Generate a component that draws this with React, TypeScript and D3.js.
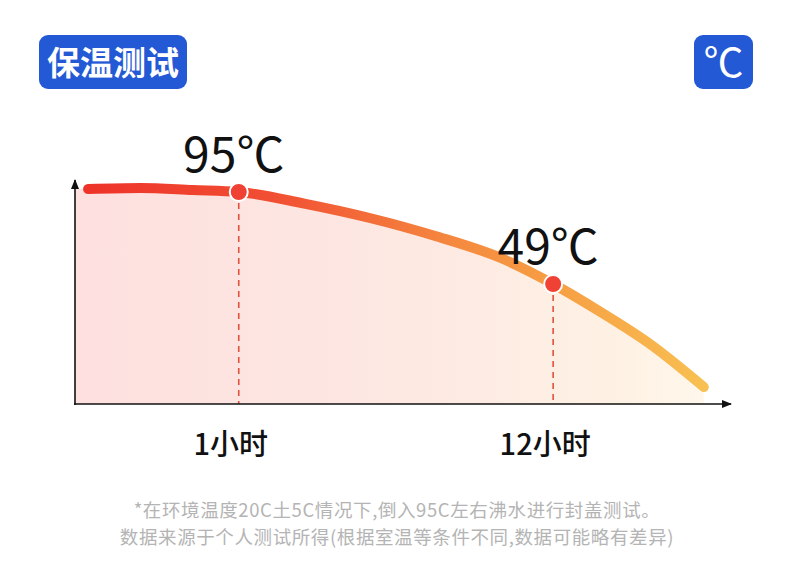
import React from 'react';
import * as d3 from 'd3';

// curve samples: position along the time axis (% of axis) -> water temperature (illustrative)
const POS = [2, 10, 18, 25, 35, 45, 55, 65, 73, 80, 88, 96];
const TEMPS = [96.5, 97, 96, 95, 89.2, 82, 73, 62, 49, 35.5, 18.5, -2.5];

// highlighted readings
const MARK_POS = [25, 73];
const MARK_TEMPS = [95, 49];
const MARK_LABELS = ['95℃', '49℃'];
const TICK_LABELS = ['1小时', '12小时'];

const TITLE = '保温测试';
const UNIT = '℃';
const NOTES = [
  '*在环境温度20C土5C情况下,倒入95C左右沸水进行封盖测试。',
  '数据来源于个人测试所得(根据室温等条件不同,数据可能略有差异)',
];

const W = 790;
const H = 569;
const AXIS_X = 75;
const AXIS_Y = 404;
const AXIS_END = 730;
const CJK = '"Noto Sans CJK SC", "Noto Sans", sans-serif';
const BLUE = '#2459d6';

const App: React.FC = () => {
  const x = d3.scaleLinear().domain([0, 100]).range([AXIS_X, AXIS_END]);
  const y = d3.scaleLinear().domain([0, 100]).range([382, 182]);

  const pts: [number, number][] = POS.map((p, i) => [p, TEMPS[i]]);

  const line = d3.line<[number, number]>()
    .x(d => x(d[0]))
    .y(d => y(d[1]))
    .curve(d3.curveMonotoneX);

  const area = d3.area<[number, number]>()
    .x(d => x(d[0]))
    .y0(AXIS_Y)
    .y1(d => y(d[1]))
    .curve(d3.curveMonotoneX);

  const x0 = x(POS[0]);
  const yTop = y(TEMPS[0]);

  return (
    <svg width={W} height={H} style={{ position: 'absolute', left: 0, top: 0, background: '#fff' }}>
      <defs>
        <linearGradient id="fillGrad" gradientUnits="userSpaceOnUse" x1={AXIS_X} x2={AXIS_END} y1={0} y2={0}>
          <stop offset="0" stopColor="#fde0df" />
          <stop offset="0.5" stopColor="#fde8e2" />
          <stop offset="0.85" stopColor="#fef2e4" />
          <stop offset="0.96" stopColor="#fff7ec" />
          <stop offset="1" stopColor="#ffffff" />
        </linearGradient>
        <linearGradient id="lineGrad" gradientUnits="userSpaceOnUse" x1={x0} x2={x(POS[POS.length - 1])} y1={0} y2={0}>
          <stop offset="0" stopColor="#ee3329" />
          <stop offset="0.3" stopColor="#f14f33" />
          <stop offset="0.6" stopColor="#f58a3f" />
          <stop offset="0.8" stopColor="#f7a446" />
          <stop offset="1" stopColor="#f8c052" />
        </linearGradient>
        <marker id="arrow" viewBox="0 0 10 10" refX="9" refY="5" markerWidth="10" markerHeight="10"
          markerUnits="userSpaceOnUse" orient="auto">
          <path d="M0,1 L10,5 L0,9 Z" fill="#111" />
        </marker>
      </defs>

      {/* title badge */}
      <rect x={39} y={35} width={148} height={54} rx={9} fill={BLUE} />
      <text x={113} y={75} textAnchor="middle" fill="#fff" fontFamily={CJK} fontWeight={700} fontSize={33}>
        {TITLE}
      </text>
      <rect x={694} y={35} width={59} height={54} rx={9} fill={BLUE} />
      <text x={723.5} y={77} textAnchor="middle" fill="#fff" fontFamily={CJK} fontSize={40}>
        {UNIT}
      </text>

      {/* area under curve */}
      <rect x={AXIS_X} y={yTop} width={x0 - AXIS_X + 1} height={AXIS_Y - yTop} fill="url(#fillGrad)" />
      <path d={area(pts) ?? ''} fill="url(#fillGrad)" />

      {/* dashed guides */}
      {MARK_POS.map((p, i) => (
        <line key={`g${i}`} x1={x(p)} x2={x(p)} y1={y(MARK_TEMPS[i])} y2={AXIS_Y}
          stroke="#e2503f" strokeWidth={1.6} strokeDasharray="6,5" />
      ))}

      {/* axes */}
      <line x1={AXIS_X} x2={AXIS_X} y1={AXIS_Y + 1} y2={180} stroke="#111" strokeWidth={1.6} markerEnd="url(#arrow)" />
      <line x1={AXIS_X - 1} x2={AXIS_END + 1} y1={AXIS_Y} y2={AXIS_Y} stroke="#111" strokeWidth={1.6} markerEnd="url(#arrow)" />

      {/* curve */}
      <path d={line(pts) ?? ''} fill="none" stroke="url(#lineGrad)" strokeWidth={10} strokeLinecap="round" />

      {/* marked points */}
      {MARK_POS.map((p, i) => (
        <g key={`m${i}`}>
          <circle cx={x(p)} cy={y(MARK_TEMPS[i])} r={9} fill="#ef4134" stroke="#fff" strokeWidth={2} />
          <text x={x(p) - 5} y={y(MARK_TEMPS[i]) - 20} textAnchor="middle" fill="#111"
            fontFamily={CJK} fontSize={48}>
            {MARK_LABELS[i]}
          </text>
          <text x={x(p) - 8} y={455} textAnchor="middle" fill="#111" fontFamily={CJK}
            fontWeight={500} fontSize={29}>
            {TICK_LABELS[i]}
          </text>
        </g>
      ))}

      {/* footnote */}
      {NOTES.map((t, i) => (
        <text key={`n${i}`} x={397} y={517 + i * 27} textAnchor="middle" fill="#b4b4b4"
          fontFamily={CJK} fontSize={18.5} letterSpacing={0.6}>
          {t}
        </text>
      ))}
    </svg>
  );
};

export default App;
